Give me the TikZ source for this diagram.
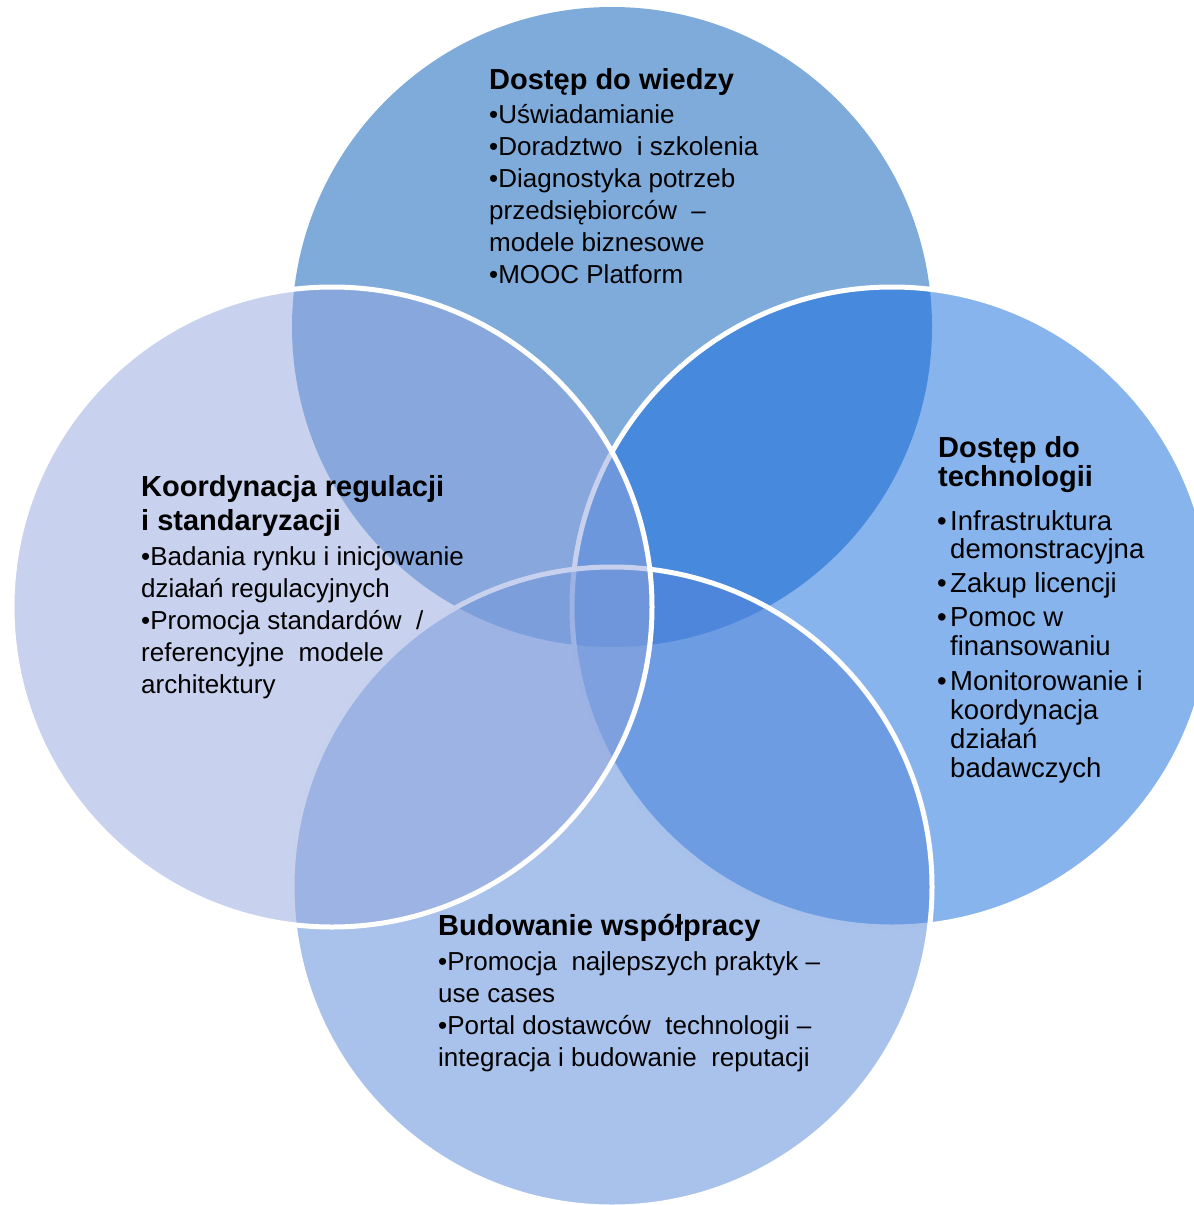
\documentclass[tikz,border=0pt]{standalone}
\usepackage{fontspec}
\setmainfont{Liberation Sans}
\definecolor{ctop}{RGB}{127,171,219}
\definecolor{cright}{RGB}{17,105,221}
\definecolor{cbottom}{RGB}{83,133,217}
\definecolor{cleft}{RGB}{145,165,221}
\tikzset{
  ring/.style={draw=white, line width=5pt},
  ttl/.style={anchor=base west, inner sep=0pt, font=\fontsize{29}{34}\selectfont\bfseries},
  txt/.style={anchor=base west, inner sep=0pt, font=\fontsize{26}{32}\selectfont},
  rtxt/.style={anchor=base west, inner sep=0pt, font=\fontsize{27.5}{29}\selectfont}
}
\begin{document}
\begin{tikzpicture}[x=1pt, y=-1pt]
\useasboundingbox (0,0) rectangle (1194,1205);
\clip (0,0) rectangle (1194,1205);
% circles
\fill[ctop] (612,327) circle (320pt);
\fill[cright, fill opacity=0.5] (892,607) circle (320pt);
\draw[ring] (892,607) circle (320pt);
\fill[cbottom, fill opacity=0.5] (612,887) circle (320pt);
\draw[ring] (612,887) circle (320pt);
\fill[cleft, fill opacity=0.5] (332,607) circle (320pt);
\draw[ring] (332,607) circle (320pt);
% top circle text
\node[ttl] (tT) at (489,89) {Dostęp do wiedzy};
\node[txt] (t1) at (489,123) {•Uświadamianie};
\node[txt] (t2) at (489,155) {•Doradztwo\ \ i szkolenia};
\node[txt] (t3) at (489,187) {•Diagnostyka potrzeb};
\node[txt] (t4) at (489,219) {przedsiębiorców \ –};
\node[txt] (t5) at (489,251) {modele biznesowe};
\node[txt] (t6) at (489,283) {•MOOC Platform};
% left circle text
\node[ttl] (lT1) at (141,496) {Koordynacja regulacji};
\node[ttl] (lT2) at (141,530) {i standaryzacji};
\node[txt] (l1) at (141,565) {•Badania rynku i inicjowanie};
\node[txt] (l2) at (141,597) {działań regulacyjnych};
\node[txt] (l3) at (141,629) {•Promocja standardów \ /};
\node[txt] (l4) at (141,661) {referencyjne\ \ modele};
\node[txt] (l5) at (141,693) {architektury};
% right circle text
\node[ttl] (rT1) at (938,457) {Dostęp do};
\node[ttl] (rT2) at (938,486) {technologii};
\node[rtxt] (rb1) at (937,530) {•};
\node[rtxt] (r1) at (950,530) {Infrastruktura};
\node[rtxt] (r2) at (950,558) {demonstracyjna};
\node[rtxt] (rb2) at (937,592) {•};
\node[rtxt] (r3) at (950,592) {Zakup licencji};
\node[rtxt] (rb3) at (937,626) {•};
\node[rtxt] (r4) at (950,626) {Pomoc w};
\node[rtxt] (r5) at (950,655) {finansowaniu};
\node[rtxt] (rb4) at (937,690) {•};
\node[rtxt] (r6) at (950,690) {Monitorowanie i};
\node[rtxt] (r7) at (950,719) {koordynacja};
\node[rtxt] (r8) at (950,748) {działań};
\node[rtxt] (r9) at (950,777) {badawczych};
% bottom circle text
\node[ttl] (bT) at (438,935) {Budowanie współpracy};
\node[txt] (b1) at (438,970) {•Promocja\ \ najlepszych praktyk –};
\node[txt] (b2) at (438,1002) {use cases};
\node[txt] (b3) at (438,1034) {•Portal dostawców\ \ technologii –};
\node[txt] (b4) at (438,1066) {integracja i budowanie\ \ reputacji};
\end{tikzpicture}
\end{document}
